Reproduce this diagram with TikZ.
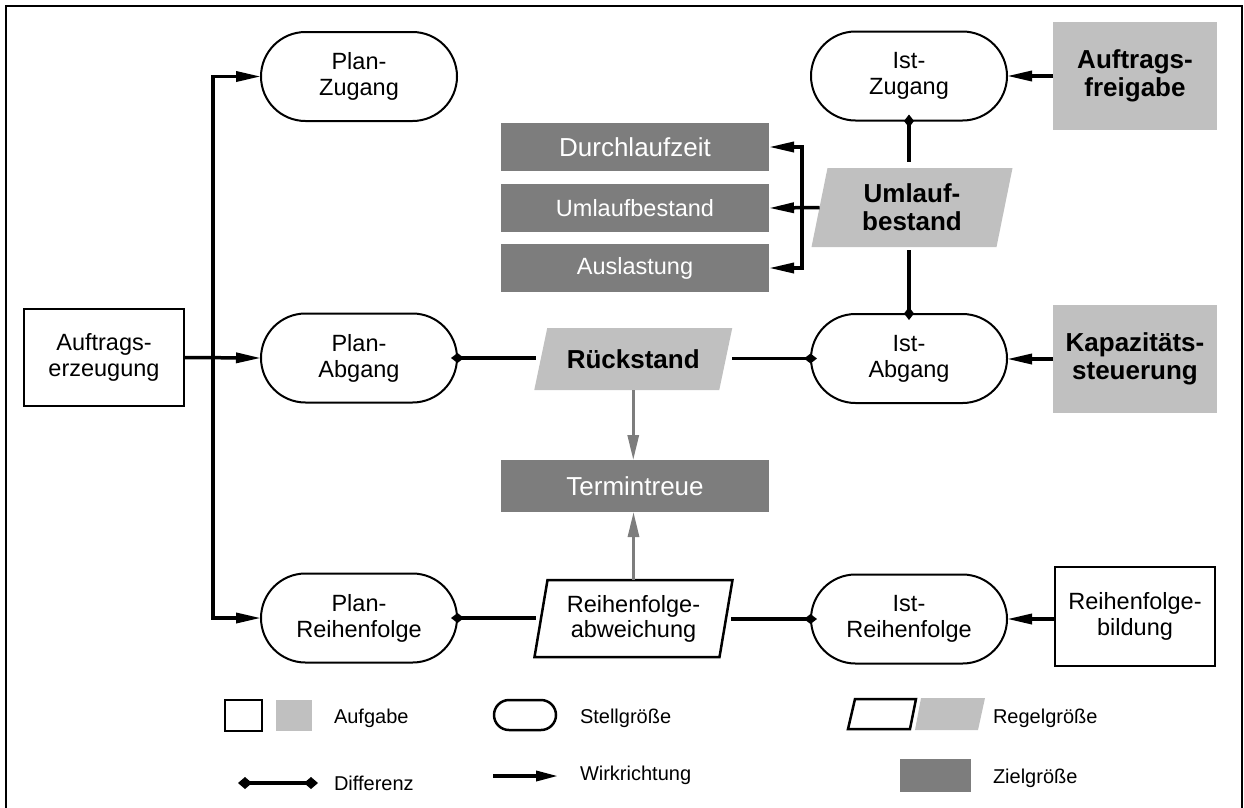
\documentclass[tikz,border=0pt]{standalone}
\usepackage{fontspec}
\setmainfont{Liberation Sans}
\usetikzlibrary{arrows.meta,shapes.misc,backgrounds}
\definecolor{hellgrau}{RGB}{192,192,192}
\definecolor{dunkelgrau}{RGB}{125,125,125}
% slanted outline around a rectangular node: #1 node, #2 half slant, #3 path style
\newcommand\paraform[3]{%
  \path[#3] ([xshift=#2]#1.north west) -- ([xshift=#2]#1.north east)
    -- ([xshift=-#2]#1.south east) -- ([xshift=-#2]#1.south west) -- cycle;}
\begin{document}
\begin{tikzpicture}[x=1pt,y=-1pt,
  every node/.style={inner sep=0pt, outer sep=0pt, align=center},
  stell/.style={rounded rectangle, draw, line width=2pt, minimum width=196pt,
    minimum height=89pt, font=\fontsize{23.5}{26}\selectfont},
  aufg/.style={draw, line width=2.5pt, minimum width=160pt, minimum height=97pt,
    font=\fontsize{23.5}{26}\selectfont},
  aufgg/.style={fill=hellgrau, minimum width=164pt, minimum height=108pt,
    font=\bfseries\fontsize{26}{27.5}\selectfont},
  ziel/.style={fill=dunkelgrau, text=white, minimum width=268pt, minimum height=48pt},
  regel/.style={minimum width=185pt},
  conn/.style={line width=3.5pt},
  wirk/.style={conn, -{Triangle[length=25pt,width=10pt]}},
  diff/.style={conn, {Diamond[length=13pt,width=10pt]}-, shorten <=-6pt},
  grauwirk/.style={line width=3pt, draw=dunkelgrau, dunkelgrau,
    -{Triangle[length=25pt,width=11pt]}},
  leg/.style={font=\fontsize{20}{24}\selectfont, anchor=base west}
]
\path[use as bounding box] (0,0) rectangle (1244,807);
% outer frame
\draw[line width=2.5pt] (6,810) -- (6,6) -- (1242,6) -- (1242,810);

% tasks
\node[aufg] (ae) at (104,357.5) {Auftrags-\\erzeugung};
\node[aufgg] (af) at (1135,76) {Auftrags-\\freigabe};
\node[aufgg] (ks) at (1135,359) {Kapazitäts-\\steuerung};
\node[aufg, minimum height=99pt] (rb) at (1135,616.5) {Reihenfolge-\\bildung};

% manipulated variables
\node[stell] (pz) at (359,76.5) {Plan-\\Zugang};
\node[stell] (pa) at (359,358) {Plan-\\Abgang};
\node[stell] (pr) at (359,618) {Plan-\\Reihenfolge};
\node[stell] (iz) at (909,76) {Ist-\\Zugang};
\node[stell] (ia) at (909,358.5) {Ist-\\Abgang};
\node[stell] (ir) at (909,619) {Ist-\\Reihenfolge};

% target variables
\node[ziel, font=\fontsize{26}{28}\selectfont] (dlz) at (635,147) {Durchlaufzeit};
\node[ziel, font=\fontsize{23.5}{26}\selectfont] (ub) at (635,208) {Umlaufbestand};
\node[ziel, font=\fontsize{23.5}{26}\selectfont] (aus) at (635,268) {Auslastung};
\node[ziel, minimum height=52pt, font=\fontsize{26}{28}\selectfont] (tt) at (635,486) {Termintreue};

% controlled variables
\node[regel, minimum height=79pt, font=\bfseries\fontsize{26}{28}\selectfont] (um) at (912,207.5) {Umlauf-\\bestand};
\node[regel, minimum height=62pt, font=\bfseries\fontsize{26}{28}\selectfont] (rs) at (633.25,359) {Rückstand};
\node[regel, minimum height=77pt, font=\fontsize{23.5}{25}\selectfont] (ra) at (633.5,618.5) {Reihenfolge-\\abweichung};
\begin{scope}[on background layer]
  \paraform{um}{8}{fill=hellgrau}
  \paraform{rs}{6.5}{fill=hellgrau}
  \paraform{ra}{6.5}{draw, line width=2.5pt, fill=white}
\end{scope}

% order generation feeds the plan values
\coordinate (split) at (213,357.5);
\draw[wirk] (ae.east) -- (pa.west);
\draw[wirk] (split) |- (pz.west);
\draw[wirk] (split) |- (pr.west);

% tasks act on the actual values
\draw[wirk] (af.west) -- (af.west -| iz.east);
\draw[wirk] (ks.west) -- (ks.west -| ia.east);
\draw[wirk] (rb.west |- ir.east) -- (ir.east);

% differences
\draw[diff, shorten >=5pt] (pa.east) -- (pa.east -| rs.west);
\draw[diff, shorten >=6pt] (ia.west) -- (ia.west -| rs.east);
\draw[diff, shorten >=5pt] (pr.east) -- (pr.east -| ra.west);
\draw[diff, shorten >=5pt] (ir.west) -- (ir.west -| ra.east);
\draw[diff, shorten >=6pt] (iz.south) -- (iz.south |- um.north);
\draw[diff, shorten >=3pt] (ia.north) -- (ia.north |- um.south);

% work in process drives the targets
\coordinate (br) at (802,208);
\draw[wirk] (um.west) -- (ub.east);
\draw[conn, {Triangle[length=25pt,width=10pt]}-{Triangle[length=25pt,width=10pt]}]
  (dlz.east) -- (br |- dlz.east) -- (br |- aus.east) -- (aus.east);

% schedule reliability
\draw[grauwirk] (rs.south) -- (rs.south |- tt.north);
\draw[grauwirk] (ra.north) -- (ra.north |- tt.south);

% legend
\draw[line width=2.5pt] (225,700) rectangle (262,731);
\fill[hellgrau] (276,700) rectangle (312,731);
\node[leg] (lg1) at (334,723) {Aufgabe};
\node[rounded rectangle, draw, line width=2.5pt, minimum width=62pt, minimum height=30pt] (lgst) at (525,715) {};
\node[leg] (lg2) at (580,723) {Stellgröße};
\draw[line width=2.5pt] (855,699) -- (916,699) -- (910,729) -- (848,729) -- cycle;
\fill[hellgrau] (921,698) -- (985,698) -- (978,730) -- (915,730) -- cycle;
\node[leg] (lg3) at (993,723) {Regelgröße};
\draw[conn, {Diamond[length=14pt,width=12pt]}-{Diamond[length=14pt,width=12pt]}] (238,783) -- (318,783);
\node[leg] (lg4) at (334,790) {Differenz};
\draw[conn, -{Triangle[length=22pt,width=10pt]}] (493,776) -- (558,776);
\node[leg] (lg5) at (580,780) {Wirkrichtung};
\fill[dunkelgrau] (900,759) rectangle (971,792);
\node[leg] (lg6) at (993,783) {Zielgröße};
\end{tikzpicture}
\end{document}
